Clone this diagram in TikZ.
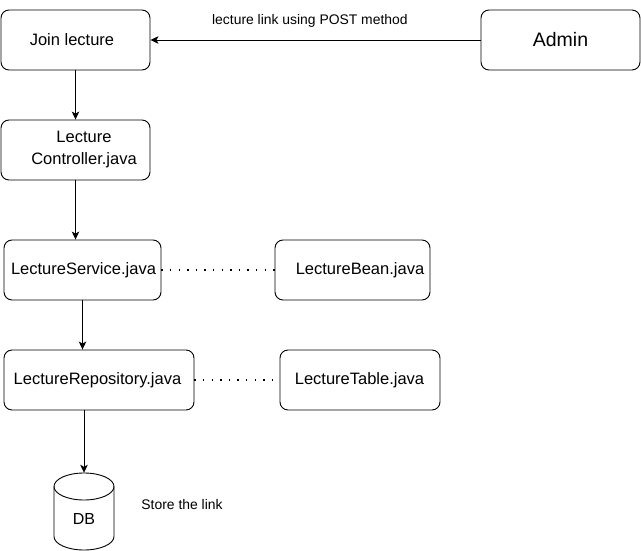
\documentclass[tikz,border=0pt]{standalone}
\usepackage{fontspec}
\setmainfont{Liberation Sans}
\usetikzlibrary{arrows.meta,calc}
\begin{document}
\begin{tikzpicture}[x=1pt,y=-1pt,
  box/.style={draw, line width=0.9pt, rounded corners=8pt, minimum height=60pt, inner sep=0pt,
    font=\fontsize{16.5}{22}\selectfont},
  txt/.style={inner sep=0pt, font=\fontsize{16.5}{22}\selectfont},
  conn/.style={line width=0.9pt, -{Stealth[length=8pt,width=7.5pt,inset=2pt]}},
  dots/.style={line width=1.6pt, dash pattern=on 1.4pt off 7.2pt},
  lbl/.style={inner sep=0pt, font=\fontsize{13.9}{16}\selectfont}]
\useasboundingbox (0,0) rectangle (641,551);
% boxes
\node[box, minimum width=149pt] (join) at (75.5,40) {};
\node[txt] (jointxt) at (72,40) {Join lecture};
\node[box, minimum width=159pt, font=\fontsize{19.5}{22}\selectfont] (admin) at (560.5,40) {Admin};
\node[box, minimum width=149pt] (ctrl) at (75.5,150) {};
\node[txt, align=center] (ctrltxt) at (84,150) {Lecture\\Controller.java};
\node[box, minimum width=157pt] (svc) at (82.5,270) {};
\node[txt] (svctxt) at (83.5,270) {LectureService.java};
\node[box, minimum width=155pt] (bean) at (352.5,270) {};
\node[txt] (beantxt) at (360,270) {LectureBean.java};
\node[box, minimum width=190pt] (repo) at (99,380) {};
\node[txt] (repotxt) at (97.5,380) {LectureRepository.java};
\node[box, minimum width=160pt] (table) at (360,380) {};
\node[txt] (tabletxt) at (359.5,380) {LectureTable.java};
% DB cylinder
\node[minimum width=60pt, minimum height=77pt, inner sep=0pt] (db) at (84,511.5) {};
\draw[line width=0.9pt] (54,486.5) -- (54,536.5) arc[start angle=180, end angle=360, x radius=30, y radius=-13.5] -- (114,486.5);
\draw[line width=0.9pt] (84,486.5) ellipse[x radius=30, y radius=13.5];
\node[txt, font=\fontsize{16}{19}\selectfont] (dbtxt) at (84,519) {DB};
\node[lbl] (store) at (182,505) {Store the link};
% connectors
\draw[conn] (admin.west) -- (join.east)
  node[lbl, pos=0.517, yshift=19pt] (postlbl) {lecture link using POST method};
\draw[conn] (join.south) -- (ctrl.north);
\draw[conn] (ctrl.south) -- (ctrl.south |- svc.north);
\draw[conn] (svc.south) -- (svc.south |- repo.north);
\draw[conn] (db.north |- repo.south) -- (db.north);
\draw[dots] (svc.east) -- (bean.west);
\draw[dots] (repo.east) -- (table.west);
\end{tikzpicture}
\end{document}
